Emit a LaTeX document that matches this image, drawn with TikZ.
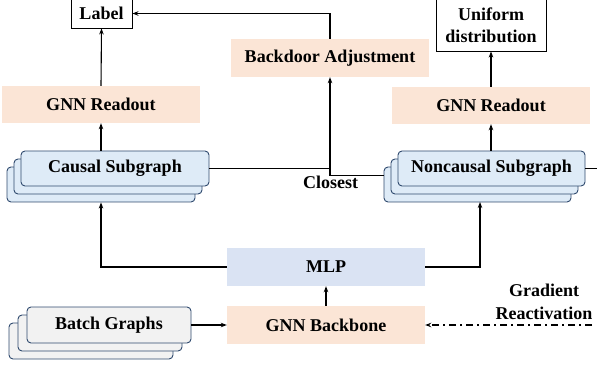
\documentclass[tikz,border=0pt]{standalone}
\usepackage{fontspec}
\setmainfont{Liberation Serif}
\newfontfamily\tfont{Liberation Serif}[BoldFont={* Bold}]
\usetikzlibrary{arrows.meta}
\definecolor{peach}{HTML}{FBE5D6}
\definecolor{mlpblue}{HTML}{DAE3F3}
\definecolor{subfill}{HTML}{DEEBF7}
\definecolor{subdraw}{HTML}{2F4A6E}
\definecolor{batchfill}{HTML}{F2F2F2}
\begin{document}
\begin{tikzpicture}[x=1pt,y=-1pt,
  every node/.style={font=\tfont\fontsize{18}{21}\selectfont\bfseries, inner sep=0pt},
  outbox/.style={draw=black, line width=0.9pt, fill=white},
  flat/.style={fill=peach, minimum width=198pt, minimum height=38pt},
  mlpbox/.style={fill=mlpblue, minimum width=198pt, minimum height=38pt},
  subbox/.style={draw=subdraw, fill=subfill, line width=0.9pt, rounded corners=4pt, minimum width=188pt, minimum height=35pt},
  batchbox/.style={draw=subdraw, fill=batchfill, line width=0.9pt, rounded corners=4pt, minimum width=164pt, minimum height=36pt},
  conn/.style={line width=1.1pt, -{Stealth[length=6pt,width=4.5pt]}},
  plain/.style={line width=1.1pt}
]
\useasboundingbox (0,0) rectangle (597,366);

% top outputs
\node[outbox, minimum width=61pt, minimum height=29pt] (label) at (101.5,13.5) {Label};
\node[outbox, minimum width=110pt, minimum height=52pt, align=center, font=\tfont\fontsize{18}{22}\selectfont\bfseries] (unif) at (491,25) {Uniform\\distribution};

% backdoor
\node[flat] (back) at (330,58) {Backdoor Adjustment};

% readouts
\node[flat, minimum height=37pt] (readL) at (101,104.5) {GNN Readout};
\node[flat, minimum height=37pt] (readR) at (491,105.5) {GNN Readout};

% causal stack
\node[subbox] (c3) at (101,184.5) {};
\node[subbox] (c2) at (108,176.5) {};
\node[subbox] (causal) at (115,168.5) {Causal Subgraph};

% noncausal stack
\node[subbox, minimum width=187pt] (n3) at (477.5,184.5) {};
\node[subbox, minimum width=187pt] (n2) at (484.5,176.5) {};
\node[subbox, minimum width=187pt] (noncausal) at (491.5,168.5) {Noncausal Subgraph};

% MLP and backbone
\node[mlpbox] (mlp) at (326,267) {MLP};
\node[flat] (backbone) at (326,325) {GNN Backbone};

% batch stack
\node[batchbox] (b3) at (91,341) {};
\node[batchbox] (b2) at (100,333) {};
\node[batchbox] (batch) at (109,325) {Batch Graphs};

% labels
\node (closest) at (330.5,182.5) {Closest};
\node[align=center, font=\tfont\fontsize{18}{23}\selectfont\bfseries] (grad) at (544,301.5) {Gradient\\Reactivation};
\coordinate (edge) at (597,168.5);
\coordinate (gradend) at (592,325);
\coordinate (join) at (330,168.5);

% connectors
\draw[conn] (readL.north) -- (label.south);
\draw[conn] (back.north) |- (label.east);
\draw[conn] (readL.south |- causal.north) -- (readL.south);
\draw[conn] (noncausal.north -| readR.south) -- (readR.south);
\draw[conn] (readR.north) -- (unif.south);
\draw[plain] (causal.east) -- (join);
\draw[conn] (n3.west |- 0,175.5) -- (330,175.5) -- (back.south);
\draw[plain] (noncausal.east) -- (edge);
\draw[conn] (mlp.west) -| (c3.south -| readL.south);
\draw[conn] (mlp.east) -| (480,202);
\draw[conn] (backbone.north) -- (mlp.south);
\draw[conn] (batch.east) -- (backbone.west);
\draw[line width=1.1pt, dash pattern=on 7pt off 4pt on 2pt off 4pt, -{Stealth[length=6pt,width=4.5pt]}] (gradend) -- (backbone.east);
\end{tikzpicture}
\end{document}
